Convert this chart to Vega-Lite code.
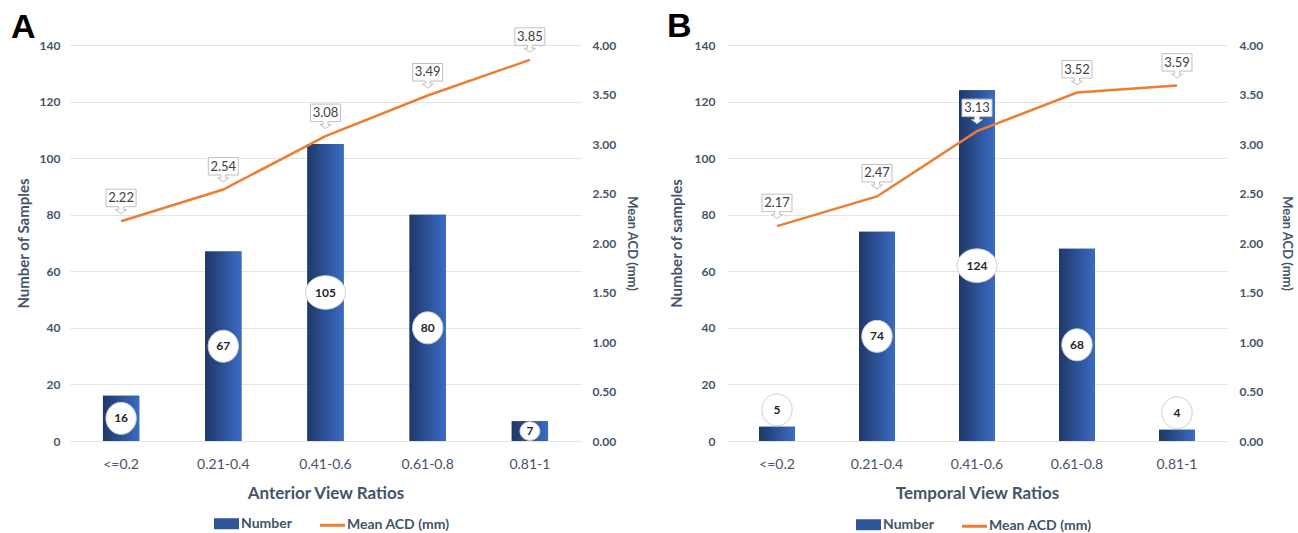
{
  "$schema": "https://vega.github.io/schema/vega-lite/v6.json",
  "background": "white",
  "padding": {"left": 11, "top": 10, "right": 2, "bottom": 0},
  "config": {
    "font": "Lato",
    "view": {"stroke": null},
    "axis": {"labelFont": "Lato", "titleFont": "Lato", "labelColor": "#44546A", "titleColor": "#44546A", "domain": false, "ticks": false, "labelFontWeight": "bold", "titleFontWeight": "bold"},
    "legend": {"labelFont": "Lato", "labelFontSize": 14, "labelFontWeight": "bold", "labelColor": "#44546A", "orient": "none", "direction": "horizontal", "columnPadding": 22, "symbolSize": 400, "labelOffset": 3,
      "title": null}
  },
  "datasets": {
    "A": [
      {"cat": "<=0.2", "n": 16, "acd": 2.22},
      {"cat": "0.21-0.4", "n": 67, "acd": 2.54},
      {"cat": "0.41-0.6", "n": 105, "acd": 3.08},
      {"cat": "0.61-0.8", "n": 80, "acd": 3.49},
      {"cat": "0.81-1", "n": 7, "acd": 3.85}
    ],
    "B": [
      {"cat": "<=0.2", "n": 5, "acd": 2.17},
      {"cat": "0.21-0.4", "n": 74, "acd": 2.47},
      {"cat": "0.41-0.6", "n": 124, "acd": 3.13},
      {"cat": "0.61-0.8", "n": 68, "acd": 3.52},
      {"cat": "0.81-1", "n": 4, "acd": 3.59}
    ]
  },
  "spacing": 29,
  "resolve": {"scale": {"color": "independent"}, "legend": {"color": "independent"}},
  "hconcat": [
    {
      "title": {"text": "A", "anchor": "start", "frame": "group", "dx": -59, "fontSize": 34, "font": "Liberation Sans", "fontWeight": "bold", "color": "black", "offset": -19},
      "width": 511,
      "height": 396,
      "data": {"name": "A"},
      "transform": [{"calculate": "datum.n / 2", "as": "lp"}],
      "encoding": {
        "x": {"field": "cat", "type": "nominal", "sort": null, "scale": {"paddingInner": 0, "paddingOuter": 0},
          "axis": {"title": "Anterior View Ratios", "labelAngle": 0, "labelFontSize": 14, "labelFontWeight": "normal", "labelPadding": 16, "titleFontSize": 17, "titlePadding": 14}}
      },
      "layer": [
        {
          "layer": [
            {
              "mark": {"type": "bar", "width": {"band": 0.355}},
              "encoding": {
                "y": {"field": "n", "type": "quantitative", "scale": {"domain": [0, 140]},
                  "axis": {"title": "Number of Samples", "values": [0, 20, 40, 60, 80, 100, 120, 140], "grid": true, "gridColor": "#E4E4E4", "labelFontSize": 12, "labelPadding": 10, "titleFontSize": 15, "titlePadding": 8}},
                "color": {"datum": "Number", "scale": {"domain": ["Number", "Mean ACD (mm)"], "range": ["#2E5597", "#ED7D31"]},
                  "legend": {"legendX": 145, "legendY": 467, "encode": {"symbols": {"update": {
                    "shape": {"signal": "datum.value === 'Number' ? 'M -1.1 -0.4 L 1.1 -0.4 L 1.1 0.4 L -1.1 0.4 Z' : 'M -1.25 0 L 1.25 0'"},
                    "fill": {"signal": "datum.value === 'Number' ? '#2E5597' : 'transparent'"},
                    "stroke": {"signal": "datum.value === 'Number' ? 'transparent' : '#ED7D31'"},
                    "strokeWidth": {"value": 3},
                    "opacity": {"value": 1}}}}}}
              }
            },
            {
              "mark": {"type": "bar", "width": {"band": 0.355}, "color": {"gradient": "linear", "x1": 0, "x2": 1, "y1": 0, "y2": 0, "stops": [{"offset": 0, "color": "#1F3868"}, {"offset": 1, "color": "#3A6BC4"}]}},
              "encoding": {"y": {"field": "n", "type": "quantitative", "scale": {"domain": [0, 140]},
                  "axis": {"title": "Number of Samples", "values": [0, 20, 40, 60, 80, 100, 120, 140], "grid": true, "gridColor": "#E4E4E4", "labelFontSize": 12, "labelPadding": 10, "titleFontSize": 15, "titlePadding": 8}}}
            },
            {
              "mark": {"type": "point", "filled": true, "fill": "white", "stroke": "#D0D0D0", "strokeWidth": 1, "opacity": 1, "size": 1024},
              "encoding": {
                "y": {"field": "lp", "type": "quantitative", "scale": {"domain": [0, 140]},
                  "axis": {"title": "Number of Samples", "values": [0, 20, 40, 60, 80, 100, 120, 140], "grid": true, "gridColor": "#E4E4E4", "labelFontSize": 12, "labelPadding": 10, "titleFontSize": 15, "titlePadding": 8}},
                "shape": {"condition": [
                  {"test": "datum.n >= 100", "value": "M -1.25 0 A 1.25 1.05 0 1 1 1.25 0 A 1.25 1.05 0 1 1 -1.25 0 Z"},
                  {"test": "datum.n < 10", "value": "M -0.62 0 A 0.62 0.58 0 1 1 0.62 0 A 0.62 0.58 0 1 1 -0.62 0 Z"}],
                  "value": "M -0.95 0 A 0.95 1.0 0 1 1 0.95 0 A 0.95 1.0 0 1 1 -0.95 0 Z"}
              }
            },
            {
              "mark": {"type": "text", "fontSize": 12, "fontWeight": "bold", "color": "#262626", "font": "Lato"},
              "encoding": {
                "y": {"field": "lp", "type": "quantitative", "scale": {"domain": [0, 140]},
                  "axis": {"title": "Number of Samples", "values": [0, 20, 40, 60, 80, 100, 120, 140], "grid": true, "gridColor": "#E4E4E4", "labelFontSize": 12, "labelPadding": 10, "titleFontSize": 15, "titlePadding": 8}},
                "text": {"field": "n", "type": "quantitative"}
              }
            }
          ]
        },
        {
          "layer": [
            {
              "mark": {"type": "line", "strokeWidth": 2.5},
              "encoding": {
                "y": {"field": "acd", "type": "quantitative", "scale": {"domain": [0, 4]},
                  "axis": {"orient": "right", "title": "Mean ACD (mm)", "values": [0, 0.5, 1, 1.5, 2, 2.5, 3, 3.5, 4], "format": ".2f", "grid": false, "labelFontSize": 12, "labelPadding": 11, "titleFontSize": 13, "titlePadding": 9}},
                "color": {"datum": "Mean ACD (mm)", "scale": {"domain": ["Number", "Mean ACD (mm)"], "range": ["#2E5597", "#ED7D31"]}}
              }
            },
            {
              "mark": {"type": "point", "filled": true, "fill": "white", "stroke": "#BFBFBF", "strokeWidth": 1, "opacity": 1, "size": 400,
                "shape": "M -1.5 -3.2 L 1.5 -3.2 L 1.5 -1.45 L 0.25 -1.45 L 0.25 -1.15 L 0.55 -1.15 L 0 -0.75 L -0.55 -1.15 L -0.25 -1.15 L -0.25 -1.45 L -1.5 -1.45 Z"},
              "encoding": {"y": {"field": "acd", "type": "quantitative", "scale": {"domain": [0, 4]},
                  "axis": {"orient": "right", "title": "Mean ACD (mm)", "values": [0, 0.5, 1, 1.5, 2, 2.5, 3, 3.5, 4], "format": ".2f", "grid": false, "labelFontSize": 12, "labelPadding": 11, "titleFontSize": 13, "titlePadding": 9}}}
            },
            {
              "mark": {"type": "text", "dy": -23, "fontSize": 13, "color": "#404040", "font": "Lato"},
              "encoding": {
                "y": {"field": "acd", "type": "quantitative", "scale": {"domain": [0, 4]},
                  "axis": {"orient": "right", "title": "Mean ACD (mm)", "values": [0, 0.5, 1, 1.5, 2, 2.5, 3, 3.5, 4], "format": ".2f", "grid": false, "labelFontSize": 12, "labelPadding": 11, "titleFontSize": 13, "titlePadding": 9}},
                "text": {"field": "acd", "type": "quantitative", "format": ".2f"}
              }
            }
          ]
        }
      ],
      "resolve": {"scale": {"y": "independent"}}
    },
    {
      "title": {"text": "B", "anchor": "start", "frame": "group", "dx": -60, "fontSize": 34, "font": "Liberation Sans", "fontWeight": "bold", "color": "black", "offset": -5},
      "width": 500,
      "height": 396,
      "data": {"name": "B"},
      "transform": [{"calculate": "datum.n < 10 ? datum.n + 6 : datum.n / 2", "as": "lp"}],
      "encoding": {
        "x": {"field": "cat", "type": "nominal", "sort": null, "scale": {"paddingInner": 0, "paddingOuter": 0},
          "axis": {"title": "Temporal View Ratios", "labelAngle": 0, "labelFontSize": 14, "labelFontWeight": "normal", "labelPadding": 16, "titleFontSize": 17, "titlePadding": 14}}
      },
      "layer": [
        {
          "layer": [
            {
              "mark": {"type": "bar", "width": {"band": 0.36}},
              "encoding": {
                "y": {"field": "n", "type": "quantitative", "scale": {"domain": [0, 140]},
                  "axis": {"title": "Number of samples", "values": [0, 20, 40, 60, 80, 100, 120, 140], "grid": true, "gridColor": "#E4E4E4", "labelFontSize": 12, "labelPadding": 12, "titleFontSize": 15, "titlePadding": 10}},
                "color": {"datum": "Number", "scale": {"domain": ["Number", "Mean ACD (mm)"], "range": ["#2E5597", "#ED7D31"]},
                  "legend": {"legendX": 130, "legendY": 468, "encode": {"symbols": {"update": {
                    "shape": {"signal": "datum.value === 'Number' ? 'M -1.1 -0.4 L 1.1 -0.4 L 1.1 0.4 L -1.1 0.4 Z' : 'M -1.25 0 L 1.25 0'"},
                    "fill": {"signal": "datum.value === 'Number' ? '#2E5597' : 'transparent'"},
                    "stroke": {"signal": "datum.value === 'Number' ? 'transparent' : '#ED7D31'"},
                    "strokeWidth": {"value": 3},
                    "opacity": {"value": 1}}}}}}
              }
            },
            {
              "mark": {"type": "bar", "width": {"band": 0.36}, "color": {"gradient": "linear", "x1": 0, "x2": 1, "y1": 0, "y2": 0, "stops": [{"offset": 0, "color": "#1F3868"}, {"offset": 1, "color": "#3A6BC4"}]}},
              "encoding": {"y": {"field": "n", "type": "quantitative", "scale": {"domain": [0, 140]},
                  "axis": {"title": "Number of samples", "values": [0, 20, 40, 60, 80, 100, 120, 140], "grid": true, "gridColor": "#E4E4E4", "labelFontSize": 12, "labelPadding": 12, "titleFontSize": 15, "titlePadding": 10}}}
            },
            {
              "mark": {"type": "point", "filled": true, "fill": "white", "stroke": "#D0D0D0", "strokeWidth": 1, "opacity": 1, "size": 1024},
              "encoding": {
                "y": {"field": "lp", "type": "quantitative", "scale": {"domain": [0, 140]},
                  "axis": {"title": "Number of samples", "values": [0, 20, 40, 60, 80, 100, 120, 140], "grid": true, "gridColor": "#E4E4E4", "labelFontSize": 12, "labelPadding": 12, "titleFontSize": 15, "titlePadding": 10}},
                "shape": {"condition": {"test": "datum.n >= 100", "value": "M -1.25 0 A 1.25 1.05 0 1 1 1.25 0 A 1.25 1.05 0 1 1 -1.25 0 Z"}, "value": "M -0.95 0 A 0.95 1.0 0 1 1 0.95 0 A 0.95 1.0 0 1 1 -0.95 0 Z"}
              }
            },
            {
              "mark": {"type": "text", "fontSize": 12, "fontWeight": "bold", "color": "#262626", "font": "Lato"},
              "encoding": {
                "y": {"field": "lp", "type": "quantitative", "scale": {"domain": [0, 140]},
                  "axis": {"title": "Number of samples", "values": [0, 20, 40, 60, 80, 100, 120, 140], "grid": true, "gridColor": "#E4E4E4", "labelFontSize": 12, "labelPadding": 12, "titleFontSize": 15, "titlePadding": 10}},
                "text": {"field": "n", "type": "quantitative"}
              }
            }
          ]
        },
        {
          "layer": [
            {
              "mark": {"type": "line", "strokeWidth": 2.5},
              "encoding": {
                "y": {"field": "acd", "type": "quantitative", "scale": {"domain": [0, 4]},
                  "axis": {"orient": "right", "title": "Mean ACD (mm)", "values": [0, 0.5, 1, 1.5, 2, 2.5, 3, 3.5, 4], "format": ".2f", "grid": false, "labelFontSize": 12, "labelPadding": 12, "titleFontSize": 13, "titlePadding": 17}},
                "color": {"datum": "Mean ACD (mm)", "scale": {"domain": ["Number", "Mean ACD (mm)"], "range": ["#2E5597", "#ED7D31"]}}
              }
            },
            {
              "mark": {"type": "point", "filled": true, "fill": "white", "stroke": "#BFBFBF", "strokeWidth": 1, "opacity": 1, "size": 400,
                "shape": "M -1.5 -3.2 L 1.5 -3.2 L 1.5 -1.45 L 0.25 -1.45 L 0.25 -1.15 L 0.55 -1.15 L 0 -0.75 L -0.55 -1.15 L -0.25 -1.15 L -0.25 -1.45 L -1.5 -1.45 Z"},
              "encoding": {"y": {"field": "acd", "type": "quantitative", "scale": {"domain": [0, 4]},
                  "axis": {"orient": "right", "title": "Mean ACD (mm)", "values": [0, 0.5, 1, 1.5, 2, 2.5, 3, 3.5, 4], "format": ".2f", "grid": false, "labelFontSize": 12, "labelPadding": 12, "titleFontSize": 13, "titlePadding": 17}}}
            },
            {
              "mark": {"type": "text", "dy": -23, "fontSize": 13, "color": "#404040", "font": "Lato"},
              "encoding": {
                "y": {"field": "acd", "type": "quantitative", "scale": {"domain": [0, 4]},
                  "axis": {"orient": "right", "title": "Mean ACD (mm)", "values": [0, 0.5, 1, 1.5, 2, 2.5, 3, 3.5, 4], "format": ".2f", "grid": false, "labelFontSize": 12, "labelPadding": 12, "titleFontSize": 13, "titlePadding": 17}},
                "text": {"field": "acd", "type": "quantitative", "format": ".2f"}
              }
            }
          ]
        }
      ],
      "resolve": {"scale": {"y": "independent"}}
    }
  ]
}
